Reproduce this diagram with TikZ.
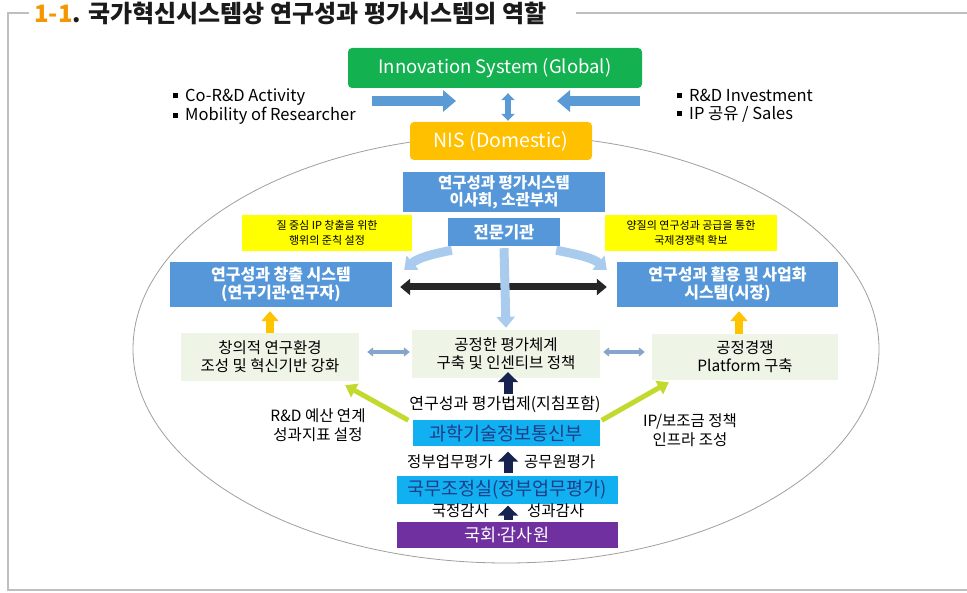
\documentclass[tikz,border=0pt]{standalone}
\usepackage{fontspec}
\setmainfont{Noto Sans CJK KR}
\newfontfamily\dejavu{DejaVu Sans}
\usetikzlibrary{arrows.meta}
\definecolor{ttlorange}{HTML}{F39800}
\definecolor{ttldark}{HTML}{1A1A1A}
\definecolor{glgreen}{HTML}{13B14F}
\definecolor{nisyel}{HTML}{FFC000}
\definecolor{sysblue}{HTML}{5597D9}
\definecolor{memo}{HTML}{FFFF00}
\definecolor{pale}{HTML}{EEF4E6}
\definecolor{cyanbox}{HTML}{11B0F0}
\definecolor{cyantext}{HTML}{1F3C88}
\definecolor{purp}{HTML}{7030A0}
\definecolor{navy}{HTML}{16234F}
\definecolor{ygreen}{HTML}{C3D92E}
\definecolor{lblue}{HTML}{A9CCEE}
\definecolor{steel}{HTML}{86A5CC}
\definecolor{arrblue}{HTML}{5B9BD5}
\definecolor{framegray}{HTML}{BFBFBF}
\definecolor{darkarrow}{HTML}{262626}
\definecolor{yarrow}{HTML}{FFC400}
\newcommand{\mdot}{\kern-3pt·\kern-3pt}
\newcommand{\sqb}{\raisebox{3pt}{\rule{5pt}{5pt}}\hspace{7pt}}
\begin{document}
\begin{tikzpicture}[x=1pt,y=-1pt,
  every node/.style={inner sep=0pt, align=center, anchor=center},
  greenbox/.style={fill=glgreen, rounded corners=4pt, text=white, font=\fontsize{18.5}{21}\selectfont},
  nisbox/.style={fill=nisyel, rounded corners=4pt, text=white, font=\fontsize{19.5}{22}\selectfont},
  sysbox/.style={fill=sysblue, text=white, font=\bfseries\fontsize{16}{17.5}\selectfont},
  memobox/.style={fill=memo, text=black, font=\fontsize{11}{15}\selectfont},
  palebox/.style={fill=pale, text=black, font=\fontsize{15.5}{18}\selectfont},
  cyanb/.style={fill=cyanbox, text=cyantext, font=\fontsize{18.5}{21}\selectfont},
  purpb/.style={fill=purp, text=white, font=\fontsize{17.5}{20}\selectfont},
  lbl/.style={text=black, font=\fontsize{15.5}{19}\selectfont},
  bullet/.style={anchor=west, text=black, font=\fontsize{16.5}{19}\selectfont},
  bluearr/.style={draw=arrblue, line width=10pt, -{Triangle[width=21pt,length=13pt]}},
  bluedbl/.style={draw=arrblue, line width=6pt, {Triangle[width=13pt,length=7pt]}-{Triangle[width=13pt,length=7pt]}},
  lbarr/.style={draw=lblue, line width=9pt, -{Triangle[width=18pt,length=11pt]}},
  blackdbl/.style={draw=darkarrow, line width=7pt, {Triangle[width=16pt,length=10pt]}-{Triangle[width=16pt,length=10pt]}},
  yarr/.style={draw=yarrow, line width=8pt, -{Triangle[width=17pt,length=10pt]}},
  steeldbl/.style={draw=steel, line width=4pt, {Triangle[width=9pt,length=6pt]}-{Triangle[width=9pt,length=6pt]}},
  navyarr/.style={draw=navy, line width=9pt, -{Triangle[width=20pt,length=10pt]}},
  ygarr/.style={draw=ygreen, line width=5pt, -{Triangle[width=15pt,length=11pt]}}
]
\useasboundingbox (0,0) rectangle (967,593);
\fill[white] (0,0) rectangle (967,593);

% frame and title
\draw[framegray, line width=1.6pt] (29,13) -- (8,13) -- (8,590) -- (967,590);
\draw[framegray, line width=1.6pt] (576,13) -- (967,13);
\node[anchor=west, text=ttldark, font=\bfseries\fontsize{24}{28}\selectfont] (title) at (34,13)
  {\textcolor{ttlorange}{1-1}. 국가혁신시스템상 연구성과 평가시스템의 역할};

% ellipse
\draw[gray!75, line width=0.8pt] (506,349) ellipse [x radius=373, y radius=214];

% top area
\node[greenbox, minimum width=294pt, minimum height=40pt] (glob) at (495,68) {Innovation System (Global)};
\node[nisbox, minimum width=182pt, minimum height=38pt] (nis) at (501,141) {NIS (Domestic)};

\node[bullet] (b1) at (173,97) {\sqb Co-R\&D Activity};
\node[bullet] (b2) at (173,116) {\sqb Mobility of Researcher};
\node[bullet] (b3) at (677,95) {\sqb R\&D Investment};
\node[bullet] (b4) at (677,114) {\sqb IP 공유 / Sales};

\coordinate (la) at (372,101);
\coordinate (lb) at (456,101);
\coordinate (ra) at (640,101);
\coordinate (rb) at (557,101);
\coordinate (mx) at (508,0);
\draw[bluearr] (la) -- (lb);
\draw[bluearr] (ra) -- (rb);
\draw[bluedbl] ([yshift=-5pt]glob.south -| mx) -- ([yshift=1pt]nis.north -| mx);

% evaluation system
\node[sysbox, font=\bfseries\fontsize{15.5}{17.5}\selectfont, minimum width=202pt, minimum height=40pt] (evalsys) at (504,192) {연구성과 평가시스템\\이사회, 소관부처};
\node[memobox, minimum width=170pt, minimum height=36pt] (yl) at (327,233) {질 중심 IP 창출을 위한\\행위의 준칙 설정};
\node[sysbox, font=\bfseries\fontsize{16.5}{18}\selectfont, minimum width=112pt, minimum height=28pt] (expert) at (504,232) {전문기관};
\node[memobox, minimum width=172pt, minimum height=36pt] (yr) at (691,233) {양질의 연구성과 공급을 통한\\국제경쟁력 확보};

\node[sysbox, minimum width=222pt, minimum height=45pt] (cre) at (281,284.5) {연구성과 창출 시스템\\(연구기관\mdot 연구자)};
\node[sysbox, minimum width=221pt, minimum height=45pt] (use) at (727.5,284.5) {연구성과 활용 및 사업화\\시스템(시장)};

% pale boxes
\node[palebox, minimum width=178pt, minimum height=48pt] (gl) at (270,357) {창의적 연구환경\\조성 및 혁신기반 강화};
\node[palebox, minimum width=188pt, minimum height=48pt] (gc) at (506,354) {공정한 평가체계\\구축 및 인센티브 정책};
\node[palebox, minimum width=186pt, minimum height=46pt] (gr) at (745,357) {공정경쟁\\Platform 구축};

% arrows in middle
\draw[blackdbl] ([xshift=8pt]cre.east |- 0,287) -- ([xshift=-10pt]use.west |- 0,287);
\draw[lbarr] ([yshift=-2pt]expert.south) -- ([yshift=2pt]gc.north);
\draw[lbarr] ([xshift=4pt,yshift=-4pt]expert.south west) .. controls +(-20,4) and +(14,-12) .. ([xshift=12pt,yshift=-8pt]cre.north east);
\draw[lbarr] ([xshift=-4pt,yshift=-4pt]expert.south east) .. controls +(20,4) and +(-14,-12) .. ([xshift=-10pt,yshift=-8pt]use.north west);

\coordinate (yax) at (739,0);
\draw[yarr] (gl.north) -- ([yshift=-4pt]gl.north |- cre.south);
\draw[yarr] (gr.north -| yax) -- ([yshift=-4pt]use.south -| yax);

\draw[steeldbl] ([xshift=8pt,yshift=5pt]gl.east) -- ([xshift=-2pt,yshift=2pt]gc.west);
\draw[steeldbl] ([xshift=3pt,yshift=2pt]gc.east) -- ([xshift=-7pt,yshift=5pt]gr.west);

% lower part
\node[lbl, font=\fontsize{16}{19}\selectfont] (law) at (505,404) {연구성과 평가법제(지침포함)};
\node[cyanb, minimum width=187pt, minimum height=26pt] (msit) at (506,433.5) {과학기술정보통신부};
\node[lbl] (rdl) at (318,425) {R\&D 예산 연계\\성과지표 설정};
\node[lbl] (rdr) at (690,430) {IP/보조금 정책\\인프라 조성};
\node[lbl, anchor=east] (gov) at (493,462) {정부업무평가};
\node[lbl, anchor=west] (civil) at (524,462) {공무원평가};
\node[cyanb, minimum width=221pt, minimum height=27pt] (opm) at (507,490) {국무조정실(정부업무평가)};
\node[lbl, anchor=east] (aud1) at (489,511) {국정감사};
\node[lbl, anchor=west] (aud2) at (527,511) {성과감사};
\node[purpb, minimum width=221pt, minimum height=26pt] (nat) at (507,535) {국회\mdot 감사원};

\draw[navyarr] ([yshift=2pt]law.north -| mx) -- ([yshift=6pt]gc.south -| mx);
\draw[navyarr] ([yshift=3pt]opm.north -| mx) -- ([yshift=-5pt]msit.south -| mx);
\draw[navyarr] ([yshift=2pt]nat.north -| mx) -- ([yshift=-2pt]opm.south -| mx);

\draw[ygarr] ([xshift=-4pt]msit.north west) -- ([xshift=-14pt,yshift=-4pt]gl.south east);
\draw[ygarr] ([xshift=2pt]msit.north east) -- ([xshift=17pt,yshift=-2pt]gr.south west);
\end{tikzpicture}
\end{document}
